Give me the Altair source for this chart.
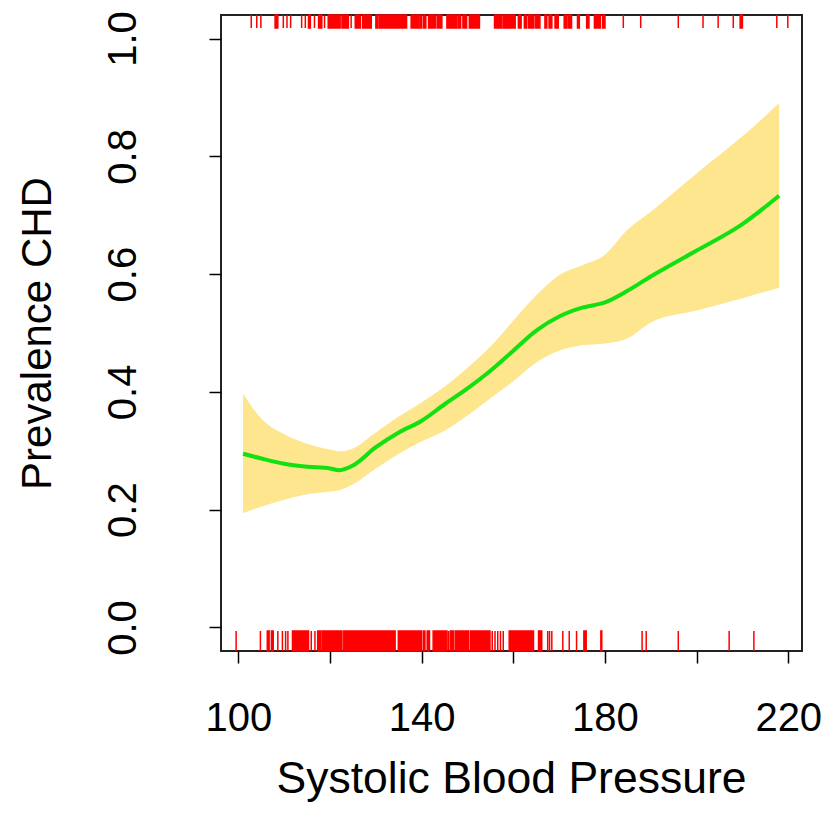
import altair as alt
import pandas as pd

# Smooth fit (systolic blood pressure vs prevalence of CHD)
sbp = [101, 105, 110, 115, 120, 122, 125, 130, 135, 140, 145, 150, 155, 160,
       165, 170, 175, 180, 185, 190, 200, 210, 218]
fit = [0.295, 0.287, 0.278, 0.273, 0.270, 0.267, 0.275, 0.306, 0.331, 0.351,
       0.379, 0.406, 0.436, 0.470, 0.504, 0.528, 0.543, 0.552, 0.572, 0.596,
       0.640, 0.685, 0.733]
upper = [0.397, 0.355, 0.328, 0.312, 0.302, 0.299, 0.304, 0.331, 0.358, 0.382,
         0.409, 0.441, 0.477, 0.521, 0.564, 0.598, 0.615, 0.633, 0.676, 0.706,
         0.771, 0.834, 0.890]
lower = [0.194, 0.205, 0.217, 0.226, 0.231, 0.233, 0.243, 0.270, 0.295, 0.316,
         0.334, 0.360, 0.389, 0.418, 0.450, 0.470, 0.479, 0.482, 0.491, 0.518,
         0.538, 0.559, 0.577]

# Rug of observations (start, end of each run of marks), CHD = 0 (bottom)
rug0_start = [99.5, 104.8, 106.3, 107.2, 108.6, 109.6, 110.3, 110.8, 111.8, 115.9,
              116.7, 117.3, 118.3, 123.0, 134.9, 140.4, 141.2, 142.5, 145.8, 146.2,
              147.3, 150.6, 155.4, 156.0, 156.6, 157.2, 157.8, 159.1, 165.5, 167.5,
              167.9, 168.4, 170.8, 172.2, 173.8, 175.4, 179.1, 188.1, 189.0, 196.0,
              207.1, 212.5]
rug0_end = [99.5, 104.8, 106.7, 107.6, 108.6, 109.6, 110.3, 110.8, 115.3, 115.9,
            116.7, 118.0, 122.6, 134.2, 140.0, 140.7, 141.7, 145.5, 145.8, 146.9,
            150.2, 154.9, 155.4, 156.0, 156.6, 157.2, 157.8, 164.4, 166.2, 167.5,
            167.9, 168.4, 170.8, 172.2, 173.8, 175.9, 179.3, 188.1, 189.0, 196.0,
            207.1, 212.5]

# CHD = 1 (top)
rug1_start = [102.8, 104.0, 104.9, 108.0, 109.8, 110.6, 111.4, 113.8, 114.6, 115.3,
              116.6, 117.5, 118.8, 119.6, 122.6, 124.6, 125.5, 127.1, 130.0, 130.7,
              137.7, 139.6, 140.4, 141.5, 143.5, 145.5, 148.0, 149.0, 150.4, 155.9,
              157.8, 161.1, 162.4, 163.3, 164.9, 166.9, 167.8, 169.1, 171.1, 172.0,
              174.0, 176.0, 177.7, 179.5, 184.0, 187.8, 196.0, 201.4, 204.7, 208.0,
              209.5, 217.5, 219.9]
rug1_end = [102.8, 104.0, 104.9, 108.6, 109.8, 110.6, 111.4, 113.8, 114.6, 115.7,
            116.6, 118.2, 118.8, 122.2, 124.0, 124.6, 126.6, 129.0, 130.4, 136.7,
            139.3, 140.0, 140.9, 143.1, 144.4, 147.7, 148.5, 149.8, 152.6, 157.5,
            160.4, 161.7, 162.9, 164.5, 165.8, 167.3, 168.4, 169.8, 171.7, 172.7,
            174.4, 176.5, 179.0, 180.0, 184.0, 187.8, 196.0, 201.4, 204.7, 208.0,
            210.0, 217.5, 219.9]

x_ticks = [100, 120, 140, 160, 180, 200, 220]
y_ticks = [0.0, 0.2, 0.4, 0.6, 0.8, 1.0]

fit_df = pd.DataFrame({"sbp": sbp, "fit": fit, "upper": upper, "lower": lower})
rug0_df = pd.DataFrame({"start": rug0_start, "end": rug0_end})
rug1_df = pd.DataFrame({"start": rug1_start, "end": rug1_end})

FONT = "Liberation Sans"
W, H = 581, 636

xscale = alt.Scale(domain=[96.2, 223.0], nice=False, zero=False)
yscale = alt.Scale(domain=[-0.04, 1.04], nice=False, zero=False)

xaxis = alt.Axis(
    values=x_ticks, title="Systolic Blood Pressure", grid=False, domain=False,
    tickSize=12, tickWidth=1.5, tickColor="black",
    labelFont=FONT, labelFontSize=40, labelColor="black",
    labelBaseline="alphabetic", labelPadding=67, labelFlush=False, labelOverlap=False,
    labelExpr="datum.value % 40 == 20 ? datum.label : ''",
    titleFont=FONT, titleFontSize=44.5, titleFontWeight="normal", titleColor="black",
    titleBaseline="alphabetic", titleX=290, titleY=141, titleAlign="center",
)
yaxis = alt.Axis(
    values=y_ticks, format=".1f", title="Prevalence CHD", grid=False, domain=False,
    tickSize=12, tickWidth=1.5, tickColor="black",
    labelFont=FONT, labelFontSize=40, labelColor="black", labelAngle=270,
    labelAlign="center", labelBaseline="alphabetic", labelPadding=74,
    labelFlush=False, labelOverlap=False,
    titleFont=FONT, titleFontSize=42, titleFontWeight="normal", titleColor="black",
    titleAngle=270, titleAlign="center", titleBaseline="alphabetic",
    titleX=-171, titleY=318,
)

band = alt.Chart(fit_df).mark_area(color="#FDE68E", opacity=1, interpolate="monotone").encode(
    x=alt.X("sbp:Q", scale=xscale, axis=xaxis),
    y=alt.Y("lower:Q", scale=yscale, axis=yaxis),
    y2="upper:Q",
)
line = alt.Chart(fit_df).mark_line(color="#11E011", strokeWidth=4, interpolate="monotone").encode(
    x=alt.X("sbp:Q", scale=xscale),
    y=alt.Y("fit:Q", scale=yscale),
)
rug0 = alt.Chart(rug0_df).mark_rect(color="#FF0000", stroke="#FF0000", strokeWidth=1.5).encode(
    x=alt.X("start:Q", scale=xscale),
    x2="end:Q",
    y=alt.value(616), y2=alt.value(636),
)
rug1 = alt.Chart(rug1_df).mark_rect(color="#FF0000", stroke="#FF0000", strokeWidth=1.5).encode(
    x=alt.X("start:Q", scale=xscale),
    x2="end:Q",
    y=alt.value(0), y2=alt.value(13),
)

chart = alt.layer(band, line, rug0, rug1).properties(
    width=W, height=H,
    autosize=alt.AutoSizeParams(type="none"),
    padding={"left": 213, "top": 7, "right": 20, "bottom": 170},
).configure(
    background="white",
    view=alt.ViewConfig(stroke="#222222", strokeWidth=2),
)

chart.save("out.html", embed_options={"renderer": "svg", "actions": False})
